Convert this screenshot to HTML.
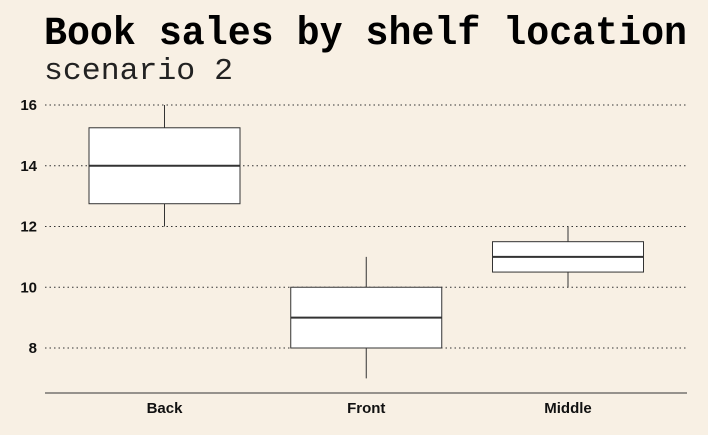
<!DOCTYPE html>
<html><head><meta charset="utf-8"><style>
body{margin:0;background:#f8f0e4;}
svg{display:block;}
</style></head><body>
<svg width="708" height="435" xmlns="http://www.w3.org/2000/svg">
<rect width="708" height="435" fill="#f8f0e4"/>
<text x="44" y="44" style="font-family:'Liberation Mono','Courier New',monospace" font-weight="bold" font-size="40" textLength="643" lengthAdjust="spacingAndGlyphs" fill="#000">Book sales by shelf location</text>
<text x="44" y="79" style="font-family:'Liberation Mono','Courier New',monospace" font-size="31" textLength="189" lengthAdjust="spacingAndGlyphs" fill="#222">scenario 2</text>
<g id="grid"></g>
<g id="boxes"></g>
<line x1="45" x2="687" y1="393" y2="393" stroke="#333" stroke-width="1"/>
</svg>
<script>
const categories = ["Back","Front","Middle"];
const whiskerLow = [12,7,10];
const q1 = [12.75,8,10.5];
const medians = [14,9,11];
const q3 = [15.25,10,11.5];
const whiskerHigh = [16,11,12];
const yTicks = [8,10,12,14,16];
const NS="http://www.w3.org/2000/svg";
const y = v => 348 - (v-8)*30.375;
const xc = i => 164.5 + i*201.75;
const halfW = 75.5;
function mk(tag, attrs, parent){const e=document.createElementNS(NS,tag);for(const k in attrs)e.setAttribute(k,attrs[k]);parent.appendChild(e);return e;}
const grid=document.getElementById('grid');
yTicks.forEach(t=>{
  const l=mk('line',{x1:45,x2:687,y1:y(t),y2:y(t),stroke:'#333','stroke-width':1,'stroke-dasharray':'1.5,3'},grid);
  
  
  const tx=mk('text',{x:37,y:y(t)+5,'text-anchor':'end','font-family':'Liberation Sans, sans-serif','font-weight':'bold','font-size':15,fill:'#111'},grid);
  tx.textContent=t;
  
  
});
const bx=document.getElementById('boxes');
categories.forEach((c,i)=>{
  const g=mk('g',{},bx);
  
  
  const cx=xc(i);
  mk('line',{x1:cx,x2:cx,y1:y(whiskerHigh[i]),y2:y(q3[i]),stroke:'#333','stroke-width':1},g);
  mk('line',{x1:cx,x2:cx,y1:y(q1[i]),y2:y(whiskerLow[i]),stroke:'#333','stroke-width':1},g);
  mk('rect',{x:cx-halfW,y:y(q3[i]),width:halfW*2,height:y(q1[i])-y(q3[i]),fill:'#fff',stroke:'#333','stroke-width':1},g);
  mk('line',{x1:cx-halfW,x2:cx+halfW,y1:y(medians[i]),y2:y(medians[i]),stroke:'#333','stroke-width':2},g);
  const tx=mk('text',{x:cx,y:413,'text-anchor':'middle','font-family':'Liberation Sans, sans-serif','font-weight':'bold','font-size':15,fill:'#111'},bx);
  tx.textContent=c;
  
  
});
</script>
</body></html>
